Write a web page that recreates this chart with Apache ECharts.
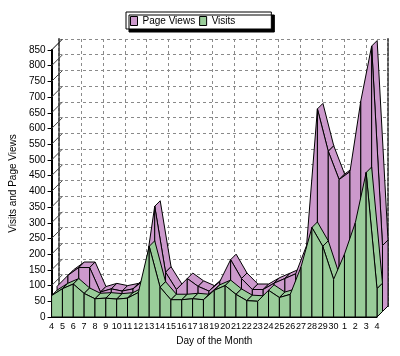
<!DOCTYPE html>
<html>
<head>
<meta charset="utf-8">
<script src="https://cdn.jsdelivr.net/npm/echarts@6/dist/echarts.min.js"></script>
<style>
html,body{margin:0;padding:0;background:#fff;}
#chart{width:400px;height:356px;}
</style>
</head>
<body>
<div id="chart"></div>
<script>
// ---- data ----
const categories = ['4','5','6','7','8','9','10','11','12','13','14','15','16','17','18','19','20','21','22','23','24','25','26','27','28','29','30','1','2','3','4'];
const pageViews = [80, 115, 140, 140, 62, 72, 65, 72, 100, 335, 125, 70, 105, 80, 65, 95, 165, 105, 70, 70, 90, 105, 120, 210, 645, 510, 420, 445, 670, 845, 210];
const visits = [68, 90, 105, 75, 58, 60, 57, 60, 78, 225, 95, 55, 55, 58, 55, 85, 100, 72, 52, 50, 85, 62, 72, 160, 285, 225, 120, 200, 300, 460, 90];
const yMin = 0, yMax = 850, yStep = 50;
const yTicks = [];
for (let v = yMin; v <= yMax; v += yStep) yTicks.push(v);

// ---- 3D depth (pixels) ----
const DX = 11, DY = 11;
const FONT = 'Liberation Sans, Arial, sans-serif';

function make3DRender(values, d0, d1) {
  return function (params, api) {
    const i = api.value(0);
    const n = values.length;
    const P = (idx, v, d) => {
      const c = api.coord([idx, v]);
      return [c[0] + DX * d, c[1] - DY * d];
    };
    const style = { fill: api.visual('color'), stroke: '#000', lineWidth: 1 };
    const children = [];
    if (i < n - 1) {
      const a = P(i, values[i], d0), b = P(i + 1, values[i + 1], d0);
      const c = P(i + 1, values[i + 1], d1), e = P(i, values[i], d1);
      const run = b[0] - a[0], rise = a[1] - b[1];
      if (rise * DX < run * DY) {
        children.push({ type: 'polygon', z2: 1, shape: { points: [a, b, c, e] }, style: style });
      }
      const a0 = P(i, 0, d0), b0 = P(i + 1, 0, d0);
      children.push({ type: 'polygon', z2: 2, shape: { points: [a, b, b0, a0] }, style: style });
    } else {
      const a = P(i, values[i], d0), e = P(i, values[i], d1);
      const e0 = P(i, 0, d1), a0 = P(i, 0, d0);
      children.push({ type: 'polygon', z2: 1, shape: { points: [a, e, e0, a0] }, style: style });
    }
    return { type: 'group', children: children };
  };
}

const chart = echarts.init(document.getElementById('chart'), null, { renderer: 'canvas' });
const dashed = { type: [3, 3], color: '#8a8a8a', width: 1 };

chart.setOption({
  animation: false,
  backgroundColor: '#fff',
  textStyle: { fontFamily: FONT },
  color: ['#cc99cc', '#99cc99'],
  legend: {
    data: ['Page Views', 'Visits'],
    left: 126, top: 12,
    icon: 'rect',
    itemWidth: 7, itemHeight: 9, itemGap: 4,
    padding: [4, 36, 3, 4],
    backgroundColor: '#fff',
    borderColor: '#000', borderWidth: 1,
    shadowColor: '#000', shadowBlur: 0, shadowOffsetX: 3, shadowOffsetY: 3,
    itemStyle: { borderColor: '#000', borderWidth: 1 },
    textStyle: { fontSize: 10, color: '#000', fontFamily: FONT }
  },
  grid: [
    { left: 48, right: 23, top: 50, bottom: 39 },
    { left: 48 + DX, right: 23 - DX, top: 50 - DY, bottom: 39 + DY }
  ],
  xAxis: [
    {
      gridIndex: 0, type: 'category', data: categories, boundaryGap: false,
      axisLine: { lineStyle: { color: '#000', width: 1 } },
      axisTick: { show: false },
      axisLabel: { interval: 0, fontSize: 9, color: '#000', margin: 5, fontFamily: FONT },
      splitLine: { show: false },
      name: 'Day of the Month', nameLocation: 'middle', nameGap: 17,
      nameTextStyle: { fontSize: 10, color: '#000', fontFamily: FONT }
    },
    {
      gridIndex: 1, type: 'category', data: categories, boundaryGap: false, position: 'top',
      axisLine: { show: true, lineStyle: { color: '#000', width: 1 } },
      axisTick: { show: false }, axisLabel: { show: false },
      splitLine: { show: true, lineStyle: dashed }
    }
  ],
  yAxis: [
    {
      gridIndex: 0, type: 'value', min: yMin, max: yMax, interval: yStep,
      axisLine: { show: true, lineStyle: { color: '#000', width: 2 } },
      axisTick: { show: true, length: 4, lineStyle: { color: '#000' } },
      axisLabel: { fontSize: 10, color: '#000', margin: 6, fontFamily: FONT },
      splitLine: { show: false },
      name: 'Visits and Page Views', nameLocation: 'middle', nameGap: 25,
      nameTextStyle: { fontSize: 10, color: '#000', fontFamily: FONT }
    },
    {
      gridIndex: 1, type: 'value', min: yMin, max: yMax, interval: yStep, position: 'left',
      axisLine: { show: true, lineStyle: { type: [3, 2], color: '#555', width: 2 } },
      axisTick: { show: false }, axisLabel: { show: false },
      splitLine: { show: true, lineStyle: dashed }
    },
    {
      gridIndex: 1, type: 'value', min: yMin, max: yMax, interval: yStep, position: 'right',
      axisLine: { show: true, lineStyle: { type: [3, 2], color: '#555', width: 2 } },
      axisTick: { show: false }, axisLabel: { show: false },
      splitLine: { show: false }
    }
  ],
  series: [
    {
      name: 'wall', type: 'custom', xAxisIndex: 0, yAxisIndex: 0, z: 1, clip: false,
      silent: true, legendHoverLink: false,
      data: yTicks.map(v => [0, v]),
      encode: { x: 0, y: 1 },
      renderItem: function (params, api) {
        const v = api.value(1);
        const c = api.coord([0, v]);
        return {
          type: 'line',
          shape: { x1: c[0], y1: c[1], x2: c[0] + DX, y2: c[1] - DY },
          style: { stroke: v === yMax ? '#000' : '#444', lineWidth: 1 }
        };
      }
    },
    {
      name: 'Page Views', type: 'custom', xAxisIndex: 0, yAxisIndex: 0, z: 2, clip: false,
      itemStyle: { color: '#cc99cc', borderColor: '#000', borderWidth: 1 },
      data: pageViews.map((v, i) => [i, v]),
      encode: { x: 0, y: 1 },
      renderItem: make3DRender(pageViews, 0.5, 1)
    },
    {
      name: 'Visits', type: 'custom', xAxisIndex: 0, yAxisIndex: 0, z: 3, clip: false,
      itemStyle: { color: '#99cc99', borderColor: '#000', borderWidth: 1 },
      data: visits.map((v, i) => [i, v]),
      encode: { x: 0, y: 1 },
      renderItem: make3DRender(visits, 0, 0.5)
    }
  ]
});
</script>
</body>
</html>
